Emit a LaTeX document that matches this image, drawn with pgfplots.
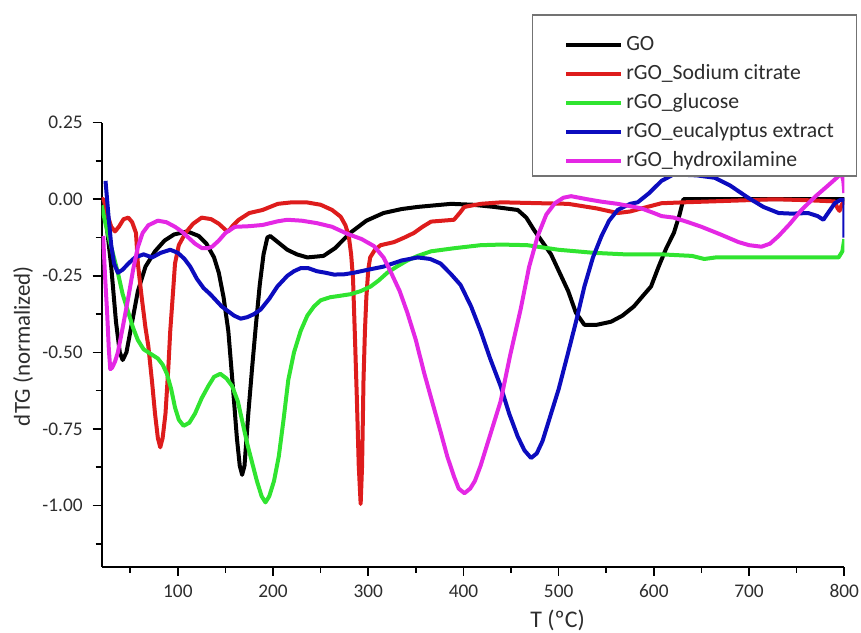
\documentclass[border=0pt]{standalone}
\usepackage{fontspec}
\setmainfont{Carlito}
\usepackage{pgfplots}
\pgfplotsset{compat=1.18}
\definecolor{cred}{RGB}{222,28,28}
\definecolor{cgreen}{RGB}{48,228,48}
\definecolor{cblue}{RGB}{12,12,190}
\definecolor{cmag}{RGB}{228,40,228}
\definecolor{txt}{RGB}{45,45,45}
\begin{document}
\begin{tikzpicture}
\begin{axis}[
  at={(0,0)}, anchor=south west,
  scale only axis, width=371.3bp, height=222bp,
  xmin=20, xmax=800, ymin=-1.2, ymax=0.25,
  axis lines=left, axis line style={-, line width=0.9bp, black},
  xtick={100,200,...,800}, minor xtick={50,150,...,750},
  ytick={-1,-0.75,-0.5,-0.25,0,0.25}, minor ytick={-1.125,-0.875,-0.625,-0.375,-0.125,0.125},
  tick align=outside,
  major tick length=4.5bp, minor tick length=3bp,
  tick style={line width=0.8bp, black},
  /pgf/number format/assume math mode=true,
  yticklabel style={/pgf/number format/.cd, fixed, fixed zerofill, precision=2, /tikz/.cd, xshift=-1.5bp},
  xticklabel style={/pgf/number format/.cd, fixed, precision=0, /tikz/.cd, yshift=-1bp},
  ticklabel style={font=\fontsize{9.7}{11}\selectfont, text=txt},
  scaled y ticks=false,
  xlabel={T (ºC)}, ylabel={dTG (normalized)},
  every axis x label/.style={at={(axis description cs:0.614,-0.122)}, anchor=center, font=\fontsize{12}{14}\selectfont, text=txt},
  every axis y label/.style={at={(axis description cs:-0.106,0.497)}, rotate=90, anchor=center, font=\fontsize{11.5}{14}\selectfont, text=txt},
  legend style={at={(axis description cs:0.579,1.244)}, anchor=north west,
    draw=black!55, line width=0.6bp, inner xsep=10bp, inner ysep=0.5bp,
    font=\fontsize{10.9}{12}\selectfont, text=txt, row sep=1.5bp,
    nodes={inner sep=1.5bp, text height=7.5bp, text depth=2.5bp},
    cells={anchor=base west},
    /tikz/row 1/.style={nodes={text height=16bp}}},
  legend image code/.code={\path (0bp,0bp); \draw[#1] (6bp,3bp) -- (33.5bp,3bp);},
  every axis plot/.append style={line width=2bp, line join=round},
]
\addplot[black] coordinates {
(20,-0.01)(25,-0.08)(30,-0.22)(35,-0.40)(39,-0.50)(42,-0.525)(46,-0.50)(52,-0.40)(58,-0.30)(66,-0.22)
(76,-0.17)(86,-0.135)(96,-0.115)(110,-0.105)(122,-0.12)(130,-0.145)(138,-0.19)(143,-0.24)(148,-0.32)
(153,-0.43)(158,-0.62)(162,-0.78)(165,-0.87)(167.5,-0.90)(170,-0.87)(174,-0.70)(178,-0.55)(182,-0.41)
(186,-0.28)(190,-0.18)(194,-0.125)(197,-0.12)(205,-0.14)(215,-0.165)(225,-0.18)(236,-0.19)(253,-0.185)
(265,-0.16)(281,-0.11)(298,-0.07)(316,-0.045)(335,-0.032)(352,-0.025)(387,-0.015)(410,-0.018)(432,-0.025)
(457,-0.035)(466,-0.06)(474,-0.10)(483,-0.14)(492,-0.18)(501,-0.24)(510,-0.30)(518,-0.37)(527,-0.41)
(540,-0.41)(555,-0.40)(567,-0.38)(579,-0.35)(590,-0.31)(597,-0.285)(605,-0.22)(613,-0.16)(621,-0.11)
(627,-0.05)(631,0.0)(650,0.0)(700,0.0)(750,0.0)(800,0.0)};
\addlegendentry{GO}
\addplot[cred] coordinates {
(20,0.0)(22,0.0)(26,-0.05)(30,-0.09)(34,-0.105)(38,-0.09)(43,-0.065)(48,-0.06)(52,-0.075)(56,-0.11)
(58,-0.21)(62,-0.32)(66,-0.42)(69,-0.48)(73,-0.60)(76,-0.70)(79,-0.78)(81.5,-0.81)(84,-0.78)(87,-0.70)
(90,-0.55)(92,-0.43)(95,-0.30)(97,-0.21)(101,-0.15)(108,-0.11)(116,-0.08)(125,-0.06)(135,-0.065)
(143,-0.08)(150,-0.10)(153,-0.105)(158,-0.085)(164,-0.067)(175,-0.045)(189,-0.035)(205,-0.015)
(220,-0.01)(235,-0.01)(250,-0.018)(262,-0.035)(271,-0.057)(276,-0.085)(279.5,-0.12)(282,-0.18)
(284,-0.26)(286,-0.45)(288,-0.65)(290,-0.87)(292,-0.995)(293.5,-0.87)(295,-0.59)(296.5,-0.43)
(298,-0.32)(300,-0.23)(302,-0.19)(307,-0.165)(313,-0.15)(320,-0.145)(327,-0.14)(338,-0.125)(348,-0.11)
(357,-0.09)(366,-0.073)(378,-0.07)(390,-0.067)(396,-0.045)(401,-0.025)(418,-0.015)(440,-0.01)
(481,-0.013)(510,-0.015)(540,-0.03)(562,-0.045)(575,-0.04)(587,-0.03)(608,-0.013)(632,-0.01)
(680,-0.005)(727,0.0)(760,-0.003)(790,-0.007)(793,-0.03)(795,-0.038)(797,-0.02)(800,-0.005)};
\addlegendentry{rGO\_Sodium citrate}
\addplot[cgreen] coordinates {
(20,-0.02)(24,-0.08)(27,-0.12)(32,-0.18)(37,-0.24)(42,-0.31)(48,-0.37)(53,-0.42)(58,-0.46)(64,-0.49)
(69,-0.50)(74,-0.51)(79,-0.52)(84,-0.54)(88.5,-0.57)(93,-0.62)(97,-0.68)(101,-0.72)(106,-0.74)
(112,-0.73)(118,-0.70)(125,-0.65)(132,-0.61)(138,-0.58)(144.5,-0.57)(151,-0.585)(157,-0.61)(163,-0.66)
(168,-0.73)(173,-0.80)(178,-0.86)(183,-0.92)(188,-0.97)(192,-0.99)(196,-0.97)(201,-0.92)(206,-0.84)
(211,-0.72)(216,-0.59)(222,-0.50)(229,-0.43)(236,-0.38)(243,-0.35)(250,-0.33)(260,-0.32)(271,-0.315)
(281.5,-0.31)(292,-0.30)(302.5,-0.285)(311,-0.265)(320,-0.24)(330,-0.22)(341,-0.20)(352,-0.185)
(366,-0.17)(390,-0.16)(418,-0.15)(440,-0.148)(467,-0.15)(500,-0.165)(537,-0.175)(570,-0.18)(608,-0.18)
(640,-0.185)(653,-0.195)(665,-0.19)(700,-0.19)(750,-0.19)(794,-0.19)(798,-0.17)(800,-0.13)};
\addlegendentry{rGO\_glucose}
\addplot[cblue] coordinates {
(24,0.06)(27,-0.05)(30,-0.15)(33,-0.21)(37,-0.24)(42,-0.23)(48,-0.21)(55,-0.19)(64,-0.18)(73,-0.19)
(82,-0.175)(92,-0.165)(100,-0.175)(107,-0.195)(113,-0.22)(120,-0.26)(127,-0.29)(134,-0.31)(146,-0.35)
(159,-0.38)(166,-0.39)(173,-0.385)(180,-0.375)(187,-0.36)(196,-0.325)(204.5,-0.285)(215,-0.25)
(222,-0.235)(229,-0.225)(237,-0.225)(246,-0.235)(255,-0.24)(264,-0.246)(275,-0.245)(285,-0.24)
(300,-0.23)(316,-0.22)(335,-0.2)(352,-0.19)(365,-0.195)(376,-0.21)(387,-0.245)(397,-0.28)(408,-0.35)
(418,-0.43)(428,-0.52)(439,-0.61)(448,-0.70)(457,-0.775)(464,-0.82)(471,-0.845)(477,-0.83)(483,-0.79)
(489,-0.73)(500,-0.62)(510,-0.50)(519,-0.39)(527,-0.285)(536,-0.19)(545,-0.12)(553,-0.07)(562,-0.035)
(575,-0.015)(583,-0.01)(595,0.02)(608,0.06)(620,0.08)(630,0.08)(645,0.078)(664,0.07)(680,0.045)
(699,0.005)(715,-0.025)(731,-0.045)(745,-0.047)(762,-0.045)(772,-0.055)(778,-0.067)(784,-0.04)
(790,-0.013)(796,-0.002)(800,-0.002)(800,-0.125)};
\addlegendentry{rGO\_eucalyptus extract}
\addplot[cmag] coordinates {
(21.5,-0.12)(23.5,-0.25)(25.7,-0.37)(27.5,-0.49)(29,-0.555)(31,-0.55)(34,-0.53)(37,-0.50)(42,-0.42)
(48,-0.32)(53,-0.23)(58,-0.156)(63,-0.11)(69,-0.085)(79,-0.07)(88,-0.075)(97,-0.09)(104,-0.105)
(111,-0.125)(118,-0.145)(125.5,-0.16)(131,-0.16)(136,-0.155)(143,-0.135)(150,-0.11)(160,-0.09)
(175,-0.088)(189,-0.084)(205,-0.072)(215,-0.067)(230,-0.07)(246,-0.078)(262,-0.09)(278,-0.113)
(293,-0.13)(306,-0.153)(316,-0.19)(324,-0.24)(333,-0.30)(341,-0.37)(350,-0.46)(358.5,-0.565)
(367,-0.66)(376,-0.76)(383,-0.84)(390,-0.905)(395,-0.945)(401,-0.96)(407,-0.945)(412,-0.92)
(418,-0.87)(428,-0.77)(439,-0.66)(449,-0.51)(460,-0.36)(469,-0.22)(478,-0.12)(487,-0.05)(496,-0.013)
(505,0.005)(513,0.01)(530,0.0)(545,-0.008)(562,-0.015)(579,-0.025)(587,-0.03)(600,-0.045)(608,-0.055)
(621,-0.06)(636,-0.075)(650,-0.09)(670,-0.115)(689,-0.14)(700,-0.15)(713,-0.155)(722,-0.145)
(731,-0.12)(743,-0.08)(755,-0.035)(770,0.01)(783,0.045)(792,0.07)(797,0.085)(799,0.06)(800,0.02)};
\addlegendentry{rGO\_hydroxilamine}
\end{axis}
\pgfresetboundingbox
\path[use as bounding box] (-50.85bp,-33.15bp) rectangle (379.65bp,283.35bp);
\end{tikzpicture}
\end{document}
